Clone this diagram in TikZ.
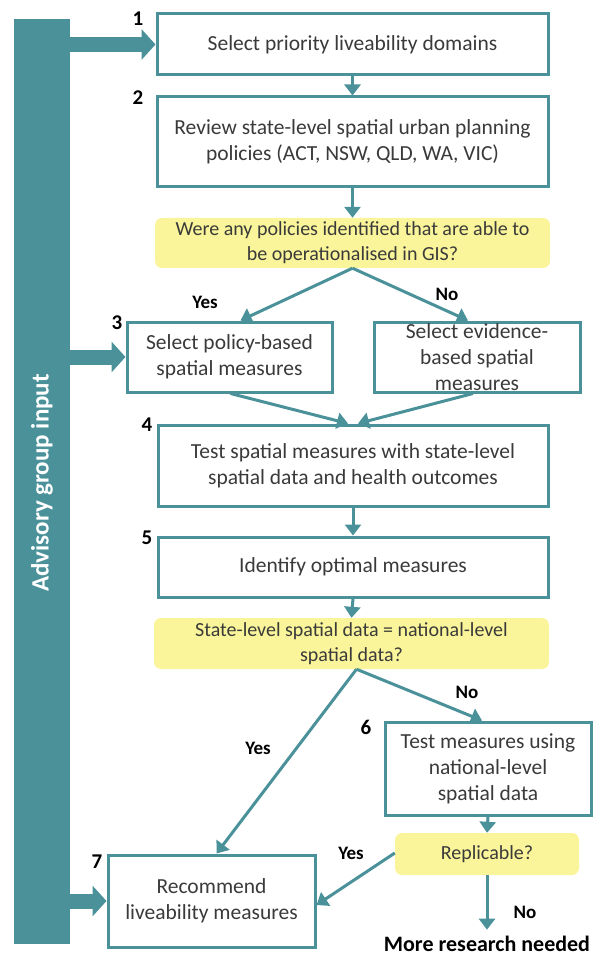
\documentclass[tikz,border=0pt]{standalone}
\usepackage{fontspec}
\setmainfont{Carlito}
\usetikzlibrary{arrows.meta}
\definecolor{advteal}{HTML}{4A9199}
\definecolor{qyellow}{HTML}{FAF59A}
\definecolor{boxtext}{HTML}{3A3A3A}

\begin{document}
\begin{tikzpicture}[x=1pt, y=-1pt,
    stage/.style={draw=advteal, line width=3pt, fill=white, align=center, text=boxtext,
        inner sep=0pt, font=\fontsize{21.5}{26}\selectfont},
    query/.style={fill=qyellow, rounded corners=7pt, align=center, text=boxtext,
        inner sep=0pt, font=\fontsize{20}{25}\selectfont},
    num/.style={font=\bfseries\fontsize{21}{24}\selectfont},
    answer/.style={font=\bfseries\fontsize{19}{22}\selectfont},
    flow/.style={draw=advteal, line width=3pt, -{Triangle[width=16pt,length=11pt]}},
    input/.style={draw=advteal, line width=15pt, -{Triangle[width=30pt,length=14pt]}}]
            \useasboundingbox (0,0) rectangle (602,957);

            % advisory bar
            \node[fill=advteal, inner sep=0pt, minimum width=56pt, minimum height=925pt] (bar) at (42,481.5) {};
            \node[rotate=90, text=white, font=\bfseries\fontsize{25}{28}\selectfont] (advlabel) at (42,483) {Advisory group input};

            % steps
            \node[stage, minimum width=391pt, minimum height=61pt] (box1) at (352.5,44.5) {Select priority liveability domains};
            \node[stage, minimum width=391pt, minimum height=90pt] (box2) at (352.5,142) {Review state-level spatial urban planning\\policies (ACT, NSW, QLD, WA, VIC)};
            \node[query, minimum width=395pt, minimum height=50pt] (q1) at (352.5,243) {Were any policies identified that are able to\\be operationalised in GIS?};
            \node[stage, minimum width=205pt, minimum height=70pt] (box3) at (229.5,357) {Select policy-based\\spatial measures};
            \node[stage, minimum width=206pt, minimum height=70pt] (box3b) at (477,357) {Select evidence-\\based spatial\\measures};
            \node[stage, minimum width=390pt, minimum height=81pt] (box4) at (353,465.5) {Test spatial measures with state-level\\spatial data and health outcomes};
            \node[stage, minimum width=390pt, minimum height=60pt] (box5) at (353,567) {Identify optimal measures};
            \node[query, minimum width=395pt, minimum height=51pt] (q2) at (351.5,643.5) {State-level spatial data = national-level\\spatial data?};
            \node[stage, minimum width=206pt, minimum height=93pt] (box6) at (488,768.5) {Test measures using\\national-level\\spatial data};
            \node[query, minimum width=184pt, minimum height=42pt] (q3) at (487,854) {Replicable?};
            \node[stage, minimum width=207pt, minimum height=92pt] (box7) at (211.5,901) {Recommend\\liveability measures};
            \node[font=\bfseries\fontsize{22}{24}\selectfont] (more) at (487,944) {More research needed};

            % step numbers
            \node[num] (n1) at (138,19) {1};
            \node[num] (n2) at (138,98) {2};
            \node[num] (n3) at (117,323) {3};
            \node[num] (n4) at (147,425) {4};
            \node[num] (n5) at (147,538) {5};
            \node[num] (n6) at (366,727) {6};
            \node[num] (n7) at (97,862) {7};

            % advisory input
            \draw[input] (bar.east |- box1.west) -- (box1.west);
            \draw[input] (bar.east |- box3.west) -- (box3.west);
            \draw[input] (bar.east |- box7.west) -- (box7.west);

            % flow
            \draw[flow] (box1.south) -- (box2.north);
            \draw[flow] (box2.south) -- (q1.north);
            \draw[flow] (q1.south) -- ([xshift=11pt]box3.north);
            \draw[flow] (q1.south) -- ([xshift=-9pt]box3b.north);
            \draw[flow] ([xshift=1pt]box3.south) -- ([xshift=-5pt]box4.north);
            \draw[flow] ([xshift=-4pt]box3b.south) -- ([xshift=5pt]box4.north);
            \draw[flow] (box4.south) -- (box5.north);
            \draw[flow] (box5.south) -- (q2.north);
            \draw[flow] ([xshift=5pt]q2.south) -- ([xshift=-6pt]box6.north);
            \draw[flow] ([xshift=5pt]q2.south) -- ([xshift=5pt]box7.north);
            \draw[flow] (box6.south) -- (q3.north);
            \draw[flow] ([yshift=1pt]q3.west) -- ([yshift=-4pt]box7.east);
            \draw[flow] (q3.south) -- ([yshift=3pt]more.north);

            \node[answer] (yes1) at (205,302) {Yes};
            \node[answer] (no1) at (447,294) {No};
            \node[answer] (yes2) at (258,748) {Yes};
            \node[answer] (no2) at (467,692) {No};
            \node[answer] (yes3) at (351,853) {Yes};
            \node[answer] (no3) at (525,912) {No};
        \end{tikzpicture}
\end{document}
